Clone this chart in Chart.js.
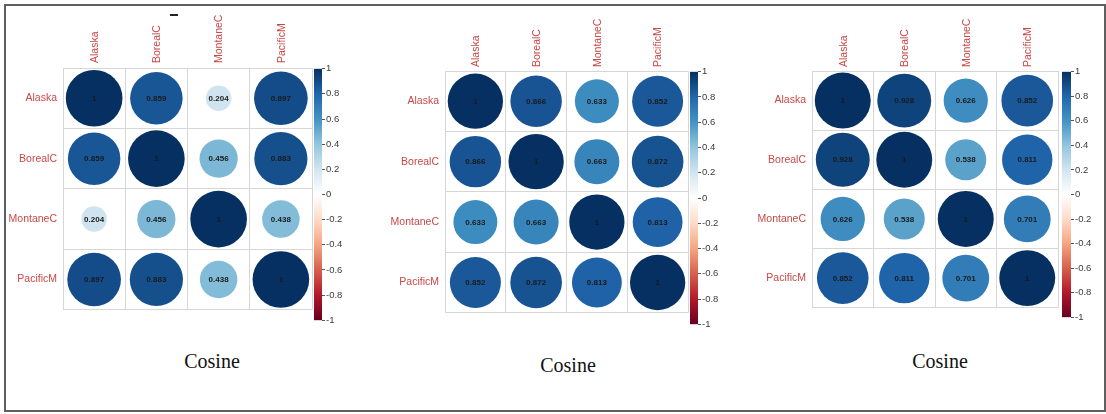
<!DOCTYPE html>
<html><head><meta charset="utf-8">
<script src="https://cdn.jsdelivr.net/npm/chart.js@4"></script>
<style>
html,body{margin:0;padding:0;background:#fff;}
body{width:1106px;height:414px;position:relative;overflow:hidden;}
#frame{position:absolute;left:4px;top:4px;width:1102px;height:408px;box-sizing:border-box;border:2px solid #5f5f5f;}
canvas{position:absolute;}
.cap{position:absolute;font-family:"Liberation Serif","Times New Roman",serif;font-size:20px;color:#111;transform:translateX(-50%);white-space:nowrap;line-height:20px;}
</style></head><body>
<div id="frame"></div>
<div style="position:absolute;left:170px;top:14px;width:8px;height:2px;background:#222"></div>
<canvas id="h1"></canvas><canvas id="c1"></canvas>
<canvas id="h2"></canvas><canvas id="c2"></canvas>
<canvas id="h3"></canvas><canvas id="c3"></canvas>
<div class="cap" id="cap1" style="left:212px;top:351px"></div>
<div class="cap" id="cap2" style="left:568px;top:355px"></div>
<div class="cap" id="cap3" style="left:940px;top:351px"></div>
<script>
const categories = ['Alaska','BorealC','MontaneC','PacificM'];
const cosine1 = [[1,0.859,0.204,0.897],[0.859,1,0.456,0.883],[0.204,0.456,1,0.438],[0.897,0.883,0.438,1]];
const cosine2 = [[1,0.866,0.633,0.852],[0.866,1,0.663,0.872],[0.633,0.663,1,0.813],[0.852,0.872,0.813,1]];
const cosine3 = [[1,0.928,0.626,0.852],[0.928,1,0.538,0.811],[0.626,0.538,1,0.701],[0.852,0.811,0.701,1]];
const colorbarTicks = [-1,-0.8,-0.6,-0.4,-0.2,0,0.2,0.4,0.6,0.8,1];
const captions = ['Cosine','Cosine','Cosine'];

const palette = ['#67001F','#B2182B','#D6604D','#F4A582','#FDDBC7','#FFFFFF','#D1E5F0','#92C5DE','#4393C3','#2166AC','#053061'];
const labelColor = '#c84848';
function hex(c){return [parseInt(c.slice(1,3),16),parseInt(c.slice(3,5),16),parseInt(c.slice(5,7),16)];}
function colorFor(v){
  let t=(v+1)/2*10; let i=Math.min(9,Math.floor(t)); let f=t-i;
  const a=hex(palette[i]), b=hex(palette[i+1]);
  return 'rgb('+a.map((x,k)=>Math.round(x+(b[k]-x)*f)).join(',')+')';
}
const valueLabels = {id:'valueLabels', afterDatasetsDraw(chart){
  const ctx=chart.ctx, meta=chart.getDatasetMeta(0), d=chart.data.datasets[0].data;
  ctx.save(); ctx.font='bold 8px "Liberation Sans", Arial, sans-serif'; ctx.fillStyle='#1a1a1a';
  ctx.textAlign='center'; ctx.textBaseline='middle';
  meta.data.forEach((el,i)=>ctx.fillText(String(d[i].v), el.x, el.y+0.5));
  ctx.restore();
}};
function heatmap(id, matrix, g){
  const cv=document.getElementById(id);
  const W=g.gridR-g.left+2, H=g.gridB-g.top+2;
  cv.width=W; cv.height=H; cv.style.left=g.left+'px'; cv.style.top=g.top+'px';
  const yw=g.gridL-g.left, xh=g.gridT-g.top;
  const rmax=Math.min((g.gridR-g.gridL)/categories.length,(g.gridB-g.gridT)/categories.length)*0.455;
  const data=[];
  matrix.forEach((row,i)=>row.forEach((v,j)=>data.push({x:categories[j],y:categories[i],v})));
  const gridOpt={offset:true,color:'#d6d6d6',drawTicks:false,lineWidth:1};
  const font={size:10.5,family:'"Liberation Sans", Arial, sans-serif'};
  new Chart(cv,{type:'scatter',
    data:{datasets:[{data,
      pointBackgroundColor:data.map(p=>colorFor(p.v)),
      pointBorderWidth:0,
      pointRadius:data.map(p=>Math.sqrt(Math.abs(p.v))*rmax),
      pointHoverRadius:data.map(p=>Math.sqrt(Math.abs(p.v))*rmax),
      clip:false}]},
    options:{responsive:false,animation:false,events:[],
      layout:{autoPadding:false,padding:{top:0,left:0,right:2,bottom:2}},
      plugins:{legend:{display:false},tooltip:{enabled:false}},
      scales:{
        x:{type:'category',labels:categories,position:'top',offset:true,grid:gridOpt,border:{color:'#d6d6d6'},
           ticks:{minRotation:90,maxRotation:90,autoSkip:false,color:labelColor,font,padding:g.xpad,labelOffset:13.5},
           afterFit:s=>{s.height=xh;}},
        y:{type:'category',labels:categories,position:'left',offset:true,grid:gridOpt,border:{color:'#d6d6d6'},
           ticks:{autoSkip:false,color:labelColor,font,padding:g.ypad},
           afterFit:s=>{s.width=yw;}}
      }},
    plugins:[valueLabels]});
}
function colorbar(id, g){
  const cv=document.getElementById(id);
  const lab=22, pad=6;
  const W=(g.cbR-g.cbL)+lab, H=(g.cbB-g.cbT)+2*pad;
  cv.width=W; cv.height=H; cv.style.left=g.cbL+'px'; cv.style.top=(g.cbT-pad)+'px';
  new Chart(cv,{type:'bar',
    data:{labels:[''],datasets:[{data:[[colorbarTicks[0],colorbarTicks[colorbarTicks.length-1]]],borderWidth:0,
      barPercentage:1,categoryPercentage:1,
      backgroundColor:ctx=>{const a=ctx.chart.chartArea; if(!a) return palette[5];
        const gr=ctx.chart.ctx.createLinearGradient(0,a.bottom,0,a.top);
        palette.forEach((c,i)=>gr.addColorStop(i/(palette.length-1),c)); return gr;}}]},
    options:{responsive:false,animation:false,events:[],
      layout:{autoPadding:false,padding:{top:pad,bottom:pad,left:0,right:0}},
      plugins:{legend:{display:false},tooltip:{enabled:false}},
      scales:{
        x:{display:false},
        y:{position:'right',min:-1,max:1,
           afterBuildTicks:s=>{s.ticks=colorbarTicks.map(v=>({value:v}));},
           ticks:{callback:v=>String(Math.round(v*10)/10),color:'#3a3a3a',font:{size:9.5,family:'"Liberation Sans", Arial, sans-serif'},padding:1},
           grid:{drawOnChartArea:false,drawTicks:true,tickLength:3,color:'#555'},
           border:{display:false},
           afterFit:s=>{s.width=lab;}}
      }}});
}
const geo=[
  {left:0,top:0,gridL:63,gridT:68,gridR:312,gridB:320,xpad:5,ypad:6,cbL:314,cbR:322,cbT:68,cbB:321},
  {left:370,top:0,gridL:445,gridT:71,gridR:688,gridB:323,xpad:4,ypad:6,cbL:690,cbR:698,cbT:71,cbB:325},
  {left:740,top:0,gridL:812,gridT:71,gridR:1058,gridB:318,xpad:4,ypad:6,cbL:1062,cbR:1071,cbT:71,cbB:318}
];
[cosine1,cosine2,cosine3].forEach((m,k)=>{
  heatmap('h'+(k+1),m,geo[k]);
  colorbar('c'+(k+1),geo[k]);
  document.getElementById('cap'+(k+1)).textContent=captions[k];
});
</script>
</body></html>
